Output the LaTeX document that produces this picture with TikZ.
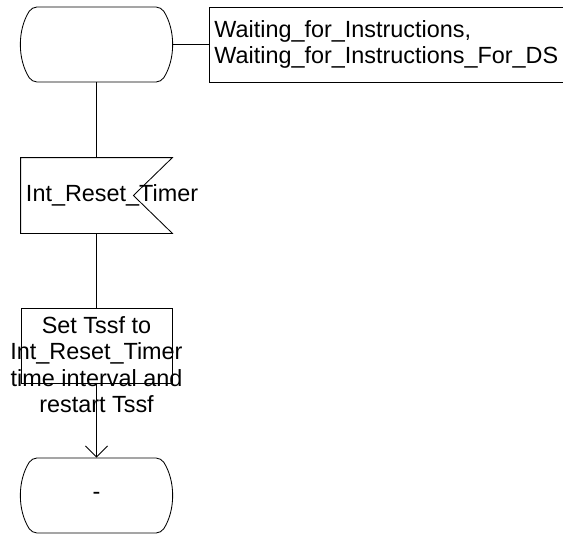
\documentclass[tikz,border=0pt]{standalone}
\usepackage{fontspec}
\setmainfont{Liberation Sans}
\usetikzlibrary{shapes.misc}
\usetikzlibrary{arrows.meta}

\begin{document}
\begin{tikzpicture}[
    x=1pt, y=-1pt, line width=0.85pt,
    every node/.style={font=\fontsize{23.4}{26.5}\selectfont},
    state/.style={rounded rectangle, rounded rectangle arc length=65, draw,
      rounded corners=5pt, minimum width=151pt, minimum height=75pt, inner sep=0pt},
    sigbox/.style={rectangle, draw=none, text width=141pt, inner sep=5pt,
      align=left, minimum height=75pt},
    taskbox/.style={rectangle, draw, minimum width=151pt, minimum height=75pt, inner sep=0pt},
    tasktext/.style={align=center, inner sep=0pt},
    commentbox/.style={rectangle, draw, anchor=west, minimum width=400pt,
      minimum height=75pt, text width=390pt, inner sep=5pt, align=left}
  ]
  \useasboundingbox (0,0) rectangle (563,535);
  \clip (0,0) rectangle (563,535);

  % Nodes
  \node[state] (wait) at (96.5, 44.5) {};
  \node[commentbox] (waitname) at (209, 44.5)
    {Waiting\_for\_Instructions,\\Waiting\_for\_Instructions\_For\_DS};
  \node[sigbox] (rstsig) at (96.5, 195.5) {Int\_Reset\_Timer};
  \node[taskbox] (settssf) at (96.5, 345.5) {};
  \node[tasktext, anchor=north] (settssftext) at (96.5, 316)
    {Set Tssf to\\Int\_Reset\_Timer\\time interval and\\restart Tssf};
  \node[state] (same) at (96.5, 495.5) {-};

  % signal input outline (notch on the right)
  \draw (rstsig.north west) -- (rstsig.north east) -- ([xshift=-39pt]rstsig.east)
    -- (rstsig.south east) -- (rstsig.south west) -- cycle;

  % Edges
  \draw (wait) -- (waitname);
  \draw (wait) -- (rstsig);
  \draw (rstsig) -- (settssf);
  \draw[-{Straight Barb[length=11pt, width=22pt]}] (settssf) -- (same);

\end{tikzpicture}
\end{document}
